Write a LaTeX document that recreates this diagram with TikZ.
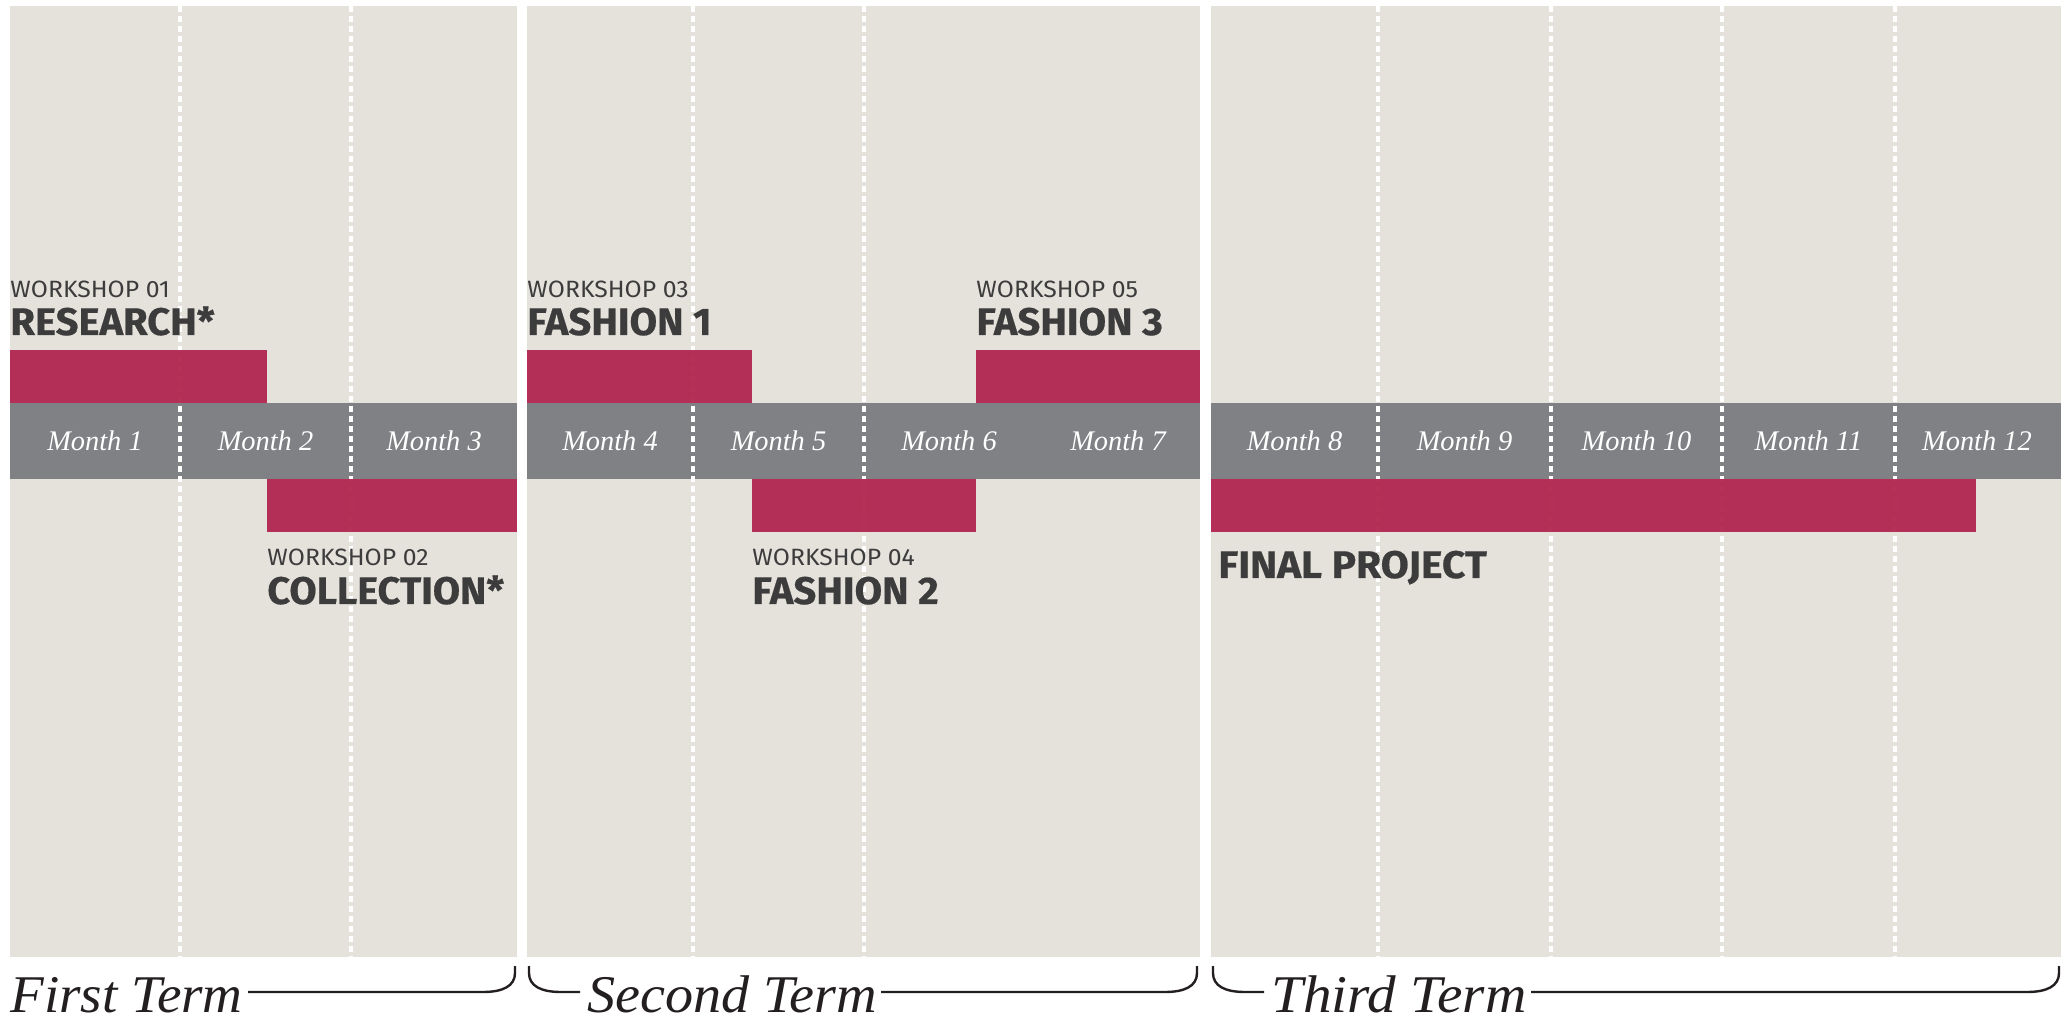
\documentclass[tikz,border=0pt]{standalone}
\usepackage{fontspec}
\setmainfont{Liberation Serif}
\newfontfamily\dinfont[BoldFeatures={FakeBold=0.5}]{Fira Sans}
\definecolor{panelbg}{HTML}{E5E2DC}
\definecolor{barcol}{HTML}{808185}
\definecolor{wred}{HTML}{B12650}
\definecolor{txtdark}{HTML}{3C3C3C}
\definecolor{termcol}{HTML}{231F20}
\newcommand{\hwide}[2]{\scalebox{#1}[1]{#2}}
\begin{document}
\begin{tikzpicture}[x=0.5pt,y=-0.5pt,
  panel/.style={fill=panelbg,draw=none},
  monthbar/.style={fill=barcol,draw=none},
  sep/.style={draw=white,line width=1.9pt,dash pattern=on 2.8pt off 2.2pt},
  wbar/.style={fill=wred,draw=none,fill opacity=0.95},
  wsmall/.style={anchor=base west,inner sep=0pt,text=txtdark,font=\dinfont\fontsize{11.8}{12}\selectfont},
  wbig/.style={anchor=base west,inner sep=0pt,text=txtdark,font=\dinfont\bfseries\fontsize{19.2}{20}\selectfont},
  month/.style={anchor=base,inner sep=0pt,text=white,font=\itshape\fontsize{14.2}{15}\selectfont},
  term/.style={anchor=base west,inner sep=0pt,text=termcol,font=\itshape\fontsize{26.5}{27}\selectfont},
  brace/.style={draw=termcol,line width=1.2pt}]
\useasboundingbox[fill=white] (0,0) rectangle (2069,1021);
% panels
\fill[panel] (10,6) rectangle (517,957);
\fill[panel] (527,6) rectangle (1200,957);
\fill[panel] (1211,6) rectangle (2061,957);
% month bars
\fill[monthbar] (10,403) rectangle (517,479);
\fill[monthbar] (527,403) rectangle (1200,479);
\fill[monthbar] (1211,403) rectangle (2061,479);
% dashed separators
\foreach \x in {180,351,693,864,1378,1551,1722,1895}
  \draw[sep] (\x,6) -- (\x,957);
% workshop bars
\fill[wbar] (10,350) rectangle (267,403);
\fill[wbar] (267,479) rectangle (517,532);
\fill[wbar] (527,350) rectangle (752,403);
\fill[wbar] (752,479) rectangle (976,532);
\fill[wbar] (976,350) rectangle (1200,403);
\fill[wbar] (1211,479) rectangle (1976,532);
% month labels
\node[month] (m1) at (95,451) {Month 1};
\node[month] (m2) at (265.5,451) {Month 2};
\node[month] (m3) at (434,451) {Month 3};
\node[month] (m4) at (610,451) {Month 4};
\node[month] (m5) at (778.5,451) {Month 5};
\node[month] (m6) at (949,451) {Month 6};
\node[month] (m7) at (1118,451) {Month 7};
\node[month] (m8) at (1294.5,451) {Month 8};
\node[month] (m9) at (1464.5,451) {Month 9};
\node[month] (m10) at (1636.5,451) {Month 10};
\node[month] (m11) at (1808.5,451) {Month 11};
\node[month] (m12) at (1977,451) {Month 12};
% workshop labels
\node[wsmall] (w1) at (10,298) {\hwide{1.05}{WORKSHOP 01}};
\node[wbig] (t1) at (10,335) {\hwide{1.04}{RESEARCH*}};
\node[wsmall] (w2) at (267,566) {\hwide{1.05}{WORKSHOP 02}};
\node[wbig] (t2) at (267,604) {\hwide{1.03}{COLLECTION*}};
\node[wsmall] (w3) at (527,298) {\hwide{1.05}{WORKSHOP 03}};
\node[wbig] (t3) at (527,335) {\hwide{1.04}{FASHION 1}};
\node[wsmall] (w4) at (752,566) {\hwide{1.05}{WORKSHOP 04}};
\node[wbig] (t4) at (752,604) {\hwide{1.04}{FASHION 2}};
\node[wsmall] (w5) at (976,298) {\hwide{1.05}{WORKSHOP 05}};
\node[wbig] (t5) at (976,335) {\hwide{1.04}{FASHION 3}};
\node[wbig] (fp) at (1218,578) {\hwide{1.06}{FINAL PROJECT}};
% terms
\node[term] (term1) at (10,1012) {\hwide{1.04}{First Term}};
\node[term] (term2) at (587,1012) {\hwide{1.06}{Second Term}};
\node[term] (term3) at (1271,1012) {\hwide{1.08}{Third Term}};
% braces
\draw[brace] (248,992) -- (483,992) .. controls (503,992) and (515,986) .. (515,973) -- (515,966);
\draw[brace] (529,966) -- (529,973) .. controls (529,986) and (541,992) .. (561,992) -- (580,992);
\draw[brace] (881,992) -- (1165,992) .. controls (1185,992) and (1197,986) .. (1197,973) -- (1197,966);
\draw[brace] (1213,966) -- (1213,973) .. controls (1213,986) and (1225,992) .. (1245,992) -- (1264,992);
\draw[brace] (1531,992) -- (2027,992) .. controls (2047,992) and (2059,986) .. (2059,973) -- (2059,966);
\end{tikzpicture}
\end{document}
